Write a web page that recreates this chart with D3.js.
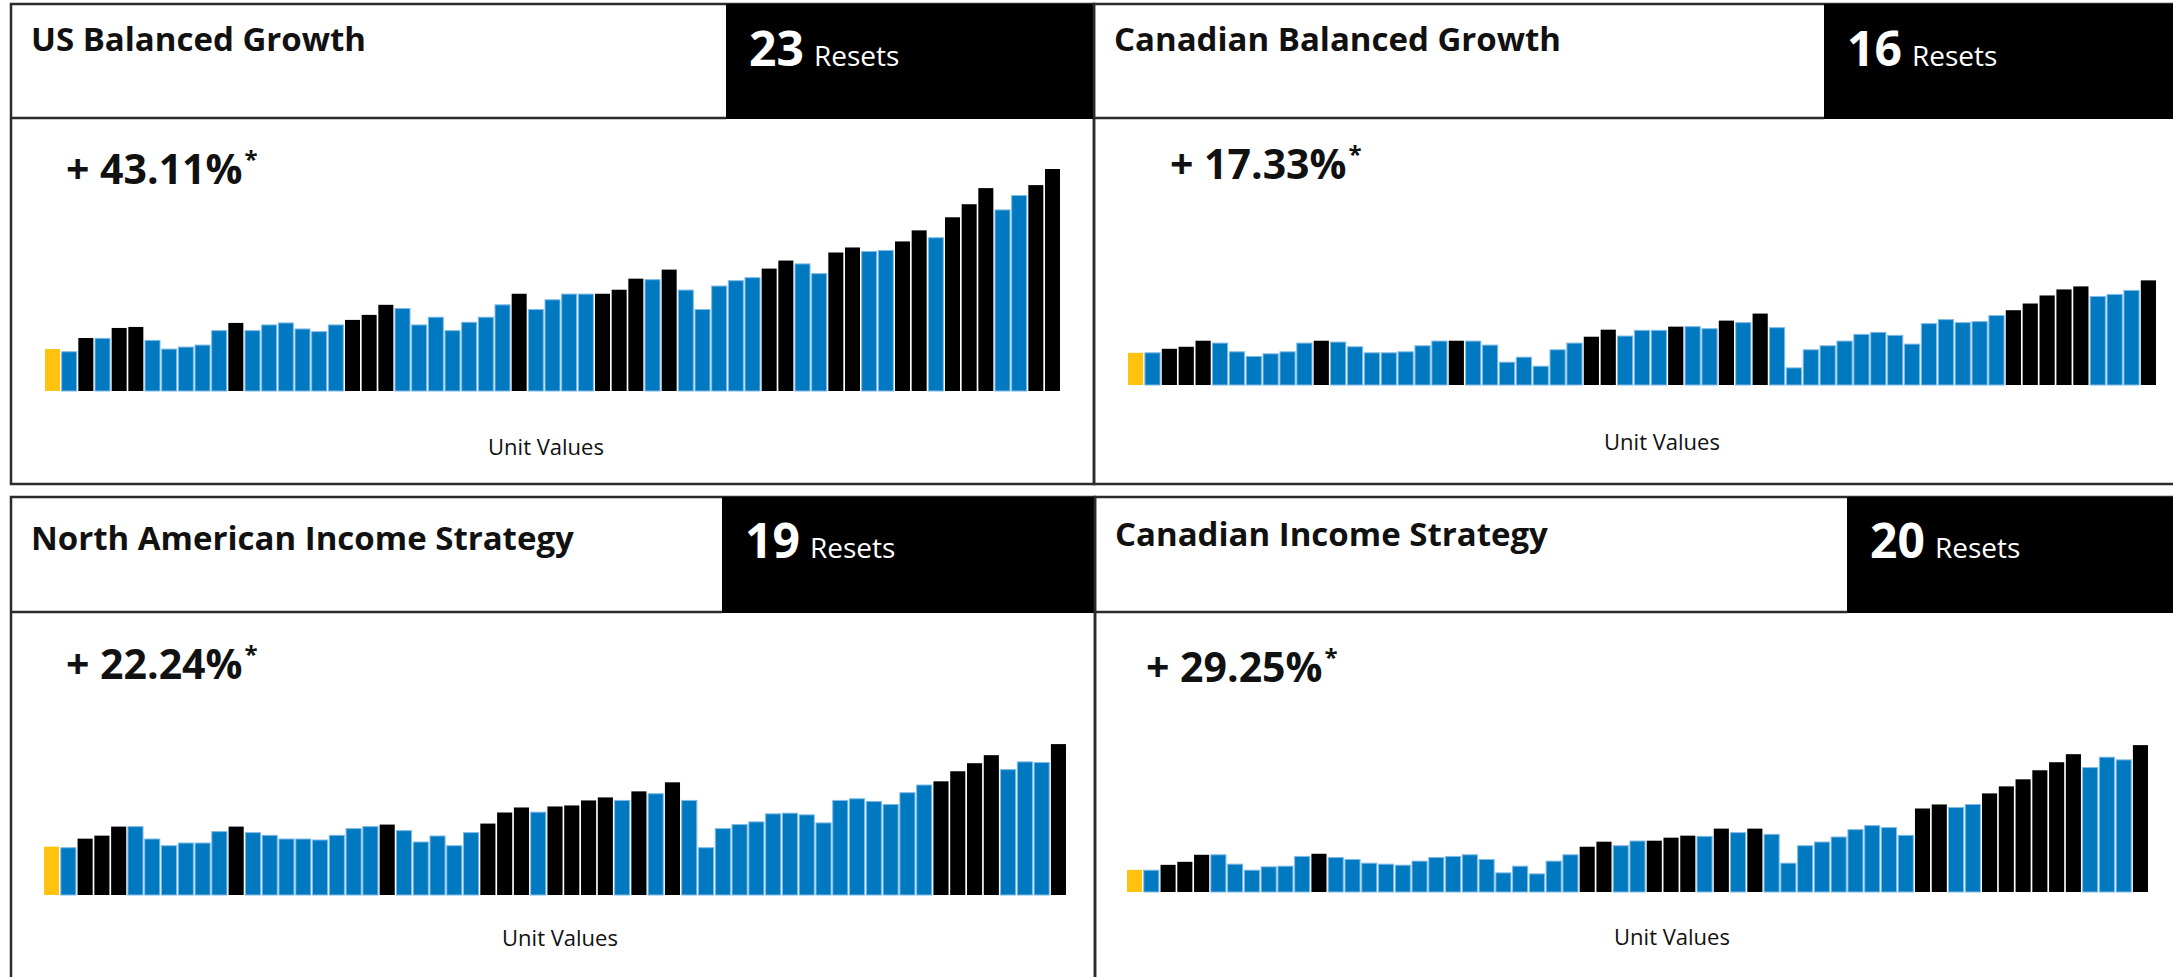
<!DOCTYPE html>
<html>
<head>
<meta charset="utf-8">
<script src="https://cdn.jsdelivr.net/npm/d3@7"></script>
<style>
  html, body { margin: 0; padding: 0; background: #fff; }
  svg { display: block; font-family: 'Open Sans', 'Noto Sans', sans-serif; }
</style>
</head>
<body>
<div id="chart"></div>
<script>
// unit values (same unit for all four funds)
let usBalanced = [125, 117, 158, 157, 188, 191, 151, 125, 131, 137,
    180, 203, 180, 197, 203, 185, 177, 197, 212, 227,
    257, 246, 197, 220, 180, 205, 220, 257, 290, 243,
    272, 289, 289, 290, 302, 335, 332, 362, 301, 243,
    313, 329, 338, 365, 389, 379, 350, 413, 428, 416,
    419, 446, 479, 457, 518, 557, 605, 540, 583, 614, 662];
let usBalancedResets = [3, 5, 6, 12, 19, 20, 21, 29, 34, 35, 36, 38, 44, 45, 48, 49, 52, 53, 55, 56, 57, 60, 61];

let cdnBalanced = [96, 96, 108, 114, 132, 125, 99, 85, 93, 99,
    125, 132, 128, 114, 96, 96, 99, 117, 131, 132,
    131, 119, 68, 83, 56, 105, 125, 144, 165, 146,
    163, 163, 174, 174, 168, 192, 186, 213, 171, 51,
    105, 117, 131, 151, 157, 148, 122, 183, 195, 186,
    189, 207, 223, 243, 267, 285, 294, 264, 270, 282, 312];
let cdnBalancedResets = [3, 4, 5, 12, 20, 28, 29, 33, 36, 38, 53, 54, 55, 56, 57, 61];

let naIncome = [144, 141, 168, 177, 204, 204, 167, 147, 155, 155,
    189, 204, 186, 178, 167, 167, 164, 178, 198, 204,
    210, 192, 158, 176, 147, 186, 213, 246, 261, 247,
    264, 267, 282, 291, 282, 309, 302, 336, 282, 141,
    198, 210, 218, 242, 244, 239, 215, 282, 287, 279,
    270, 305, 328, 339, 369, 393, 417, 374, 397, 395, 450];
let naIncomeResets = [3, 4, 5, 12, 21, 27, 28, 29, 31, 32, 33, 34, 36, 38, 54, 55, 56, 57, 61];

let cdnIncome = [66, 65, 81, 90, 111, 111, 83, 65, 75, 77,
    106, 114, 103, 97, 86, 83, 80, 92, 103, 106,
    111, 97, 57, 77, 54, 92, 111, 135, 150, 138,
    152, 153, 162, 168, 166, 189, 177, 189, 172, 86,
    138, 149, 164, 186, 198, 192, 169, 249, 261, 252,
    261, 294, 315, 336, 363, 387, 411, 371, 402, 394, 438];
let cdnIncomeResets = [3, 4, 5, 12, 28, 29, 32, 33, 34, 36, 38, 48, 49, 52, 53, 54, 55, 56, 57, 61];

let fundNames = ['US Balanced Growth', 'Canadian Balanced Growth',
    'North American Income Strategy', 'Canadian Income Strategy'];
let fundReturns = ['43.11', '17.33', '22.24', '29.25'];
let axisLabel = 'Unit Values';

let width = 2173,
    height = 977;

let colors = {start: '#ffc20e', up: '#0079c1', reset: '#000000', line: '#2b2b2b'};

// panel geometry (pixels)
let panels = [
    {values: usBalanced, resets: usBalancedResets, left: 11, top: 4, right: 1094, bottom: 484,
        boxX: 726, headH: 114, bars: [45, 1060], base: 391, pct: [66, 184], unit: [546, 455], titleY: 51, resetY: 66},
    {values: cdnBalanced, resets: cdnBalancedResets, left: 1094, top: 4, right: 2180, bottom: 484,
        boxX: 1824, headH: 114, bars: [1128, 2156], base: 385, pct: [1170, 179], unit: [1662, 450], titleY: 51, resetY: 66},
    {values: naIncome, resets: naIncomeResets, left: 11, top: 497, right: 1095, bottom: 990,
        boxX: 722, headH: 115, bars: [44, 1066], base: 895, pct: [66, 679], unit: [560, 946], titleY: 550, resetY: 558},
    {values: cdnIncome, resets: cdnIncomeResets, left: 1095, top: 497, right: 2180, bottom: 990,
        boxX: 1847, headH: 115, bars: [1127, 2148], base: 892, pct: [1146, 682], unit: [1672, 945], titleY: 546, resetY: 558}
];

let svg = d3.select('#chart').append('svg')
    .attr('width', width)
    .attr('height', height);

// one height scale shared by all funds
let hScale = d3.scaleLinear()
    .domain([0, 662])
    .range([0, 222]);

panels.forEach(function (p, i) {
    let g = svg.append('g').attr('class', 'panel');

    // frame
    g.append('rect')
        .attr('x', p.left)
        .attr('y', p.top)
        .attr('width', p.right - p.left)
        .attr('height', p.bottom - p.top)
        .attr('fill', 'none')
        .attr('stroke', colors.line)
        .attr('stroke-width', 2.5);

    g.append('line')
        .attr('x1', p.left).attr('x2', p.boxX)
        .attr('y1', p.top + p.headH).attr('y2', p.top + p.headH)
        .attr('stroke', colors.line)
        .attr('stroke-width', 2.5);

    // resets box
    g.append('rect')
        .attr('x', p.boxX)
        .attr('y', p.top)
        .attr('width', p.right - p.boxX)
        .attr('height', p.headH + 1)
        .attr('fill', '#000');

    g.append('text')
        .attr('x', p.left + 20)
        .attr('y', p.titleY)
        .attr('font-size', 33)
        .attr('font-weight', 700)
        .attr('fill', '#111')
        .text(fundNames[i]);

    let rt = g.append('text')
        .attr('x', p.boxX + 23)
        .attr('y', p.resetY)
        .attr('fill', '#fff');
    rt.append('tspan')
        .attr('font-size', 48)
        .attr('font-weight', 700)
        .text(p.resets.length);
    rt.append('tspan')
        .attr('font-size', 28)
        .attr('dx', 10)
        .text('Resets');

    let pt = g.append('text')
        .attr('x', p.pct[0])
        .attr('y', p.pct[1])
        .attr('fill', '#111')
        .attr('font-weight', 700);
    pt.append('tspan')
        .attr('font-size', 41)
        .text('+ ' + fundReturns[i] + '%');
    pt.append('tspan')
        .attr('font-size', 24)
        .attr('dx', 2)
        .attr('dy', -16)
        .text('*');

    g.append('text')
        .attr('x', p.unit[0])
        .attr('y', p.unit[1])
        .attr('text-anchor', 'middle')
        .attr('font-size', 22)
        .attr('fill', '#111')
        .text(axisLabel);

    // bars
    let xScale = d3.scaleBand()
        .domain(d3.range(p.values.length))
        .range(p.bars)
        .paddingInner(0.1)
        .paddingOuter(0);

    let bars = p.values.map(function (v, j) {
        let kind = j === 0 ? 'start' : (p.resets.indexOf(j + 1) !== -1 ? 'reset' : 'up');
        return {i: j, v: v, kind: kind};
    });

    g.append('g')
        .attr('class', 'bars')
        .selectAll('rect')
        .data(bars)
        .join('rect')
        .attr('x', d => xScale(d.i))
        .attr('y', d => p.base - hScale(d.v))
        .attr('width', xScale.bandwidth())
        .attr('height', d => hScale(d.v))
        .attr('fill', d => colors[d.kind])
        .attr('stroke', d => d.kind === 'up' ? '#7fbbe6' : 'none')
        .attr('stroke-width', 1);
});
</script>
</body>
</html>
